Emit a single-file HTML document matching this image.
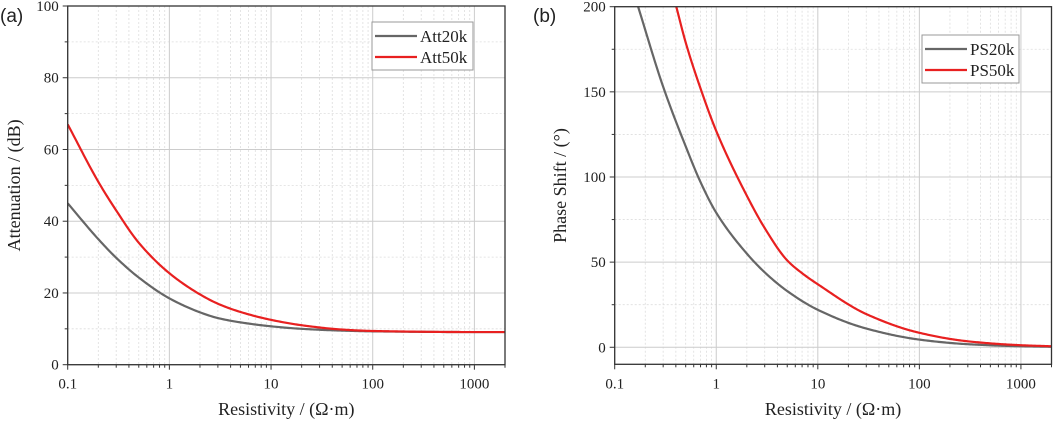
<!DOCTYPE html>
<html><head><meta charset="utf-8"><style>
body{margin:0;background:#fff}
svg text{font-family:"Liberation Serif",serif;fill:#222}
</style></head><body>
<svg id="c" width="1059" height="424" xmlns="http://www.w3.org/2000/svg"></svg>
<script>
const attX=[0.1,0.2,0.3,0.5,1,2,3,5,10,20,50,100,1000,2000];
const att20=[45,35,29.8,24.3,18.5,14.6,13,11.8,10.7,10,9.5,9.3,9.1,9.1];
const att50=[67,51,43,34,25.5,19.6,17,14.7,12.5,11,9.8,9.4,9.1,9.1];
const ps20X=[0.17,0.3,0.5,0.7,1,2,3,5,10,30,100,300,1000,2000];
const ps20=[200,153,118,97,79,55,44,33,22,11,4.5,1.8,0.6,0.3];
const ps50X=[0.4,0.5,0.7,1,2,3,5,7,10,30,100,300,1000,2000];
const ps50=[201,179,152,127,89,70,51,43.5,37,19.5,8.5,3.5,1.2,0.6];
const xTicks=[0.1,1,10,100,1000];
const xTickLabels=["0.1","1","10","100","1000"];
const attYTicks=[0,20,40,60,80,100];
const psYTicks=[0,50,100,150,200];

const NS="http://www.w3.org/2000/svg";
const svg=document.getElementById('c');
function mk(t,a,p){const e=document.createElementNS(NS,t);for(const k in a)e.setAttribute(k,a[k]);(p||svg).appendChild(e);return e;}

function monotone(xv,yv){
  const n=xv.length,u=xv.map(v=>Math.log10(v)),d=[],m=[];
  for(let i=0;i<n-1;i++)d.push((yv[i+1]-yv[i])/(u[i+1]-u[i]));
  m[0]=d[0];m[n-1]=d[n-2];
  for(let i=1;i<n-1;i++){if(d[i-1]*d[i]<=0)m[i]=0;else{const h0=u[i]-u[i-1],h1=u[i+1]-u[i];const w1=2*h1+h0,w2=h1+2*h0;m[i]=(w1+w2)/(w1/d[i-1]+w2/d[i]);}}
  return function(t){let i=0;while(i<n-2&&t>u[i+1])i++;const h=u[i+1]-u[i],s=(t-u[i])/h;
    const h00=2*s*s*s-3*s*s+1,h10=s*s*s-2*s*s+s,h01=-2*s*s*s+3*s*s,h11=s*s*s-s*s;
    return h00*yv[i]+h10*h*m[i]+h01*yv[i+1]+h11*h*m[i+1];};
}

function panel(o){
  const g=mk('g',{});
  
  
  const L=o.x0,R=o.x1,T=o.y0,B=o.y1;
  const xs=v=>L+(Math.log10(v)-Math.log10(0.1))/(Math.log10(2000)-Math.log10(0.1))*(R-L);
  const ys=v=>B-(v-o.ymin)/(o.ymax-o.ymin)*(B-T);
  for(let d=0.1;d<2000;d*=10){for(let m=2;m<10;m++){const v=d*m;if(v>2000)break;const x=xs(v);
    const l=mk('line',{x1:x,x2:x,y1:T,y2:B,stroke:'#ddd','stroke-width':0.8,'stroke-dasharray':'2,2'},g);
    
    const t=mk('line',{x1:x,x2:x,y1:B,y2:B+3,stroke:'#333','stroke-width':1},g);
    }}
  for(let i=0;i<o.yt.length-1;i++){const v=(o.yt[i]+o.yt[i+1])/2;const y=ys(v);
    const l=mk('line',{x1:L,x2:R,y1:y,y2:y,stroke:'#ddd','stroke-width':0.8,'stroke-dasharray':'2,2'},g);
    
    const t=mk('line',{x1:L-3,x2:L,y1:y,y2:y,stroke:'#333'},g);
    }
  xTicks.forEach((v,i)=>{const x=xs(v);
    const l=mk('line',{x1:x,x2:x,y1:T,y2:B,stroke:'#ccc','stroke-width':1},g);
    
    const t=mk('line',{x1:x,x2:x,y1:B,y2:B+5,stroke:'#333'},g);
    
    const tx=mk('text',{x:x,y:B+24,'text-anchor':'middle','font-size':15},g);tx.textContent=xTickLabels[i];
    });
  o.yt.forEach(v=>{const y=ys(v);
    const l=mk('line',{x1:L,x2:R,y1:y,y2:y,stroke:'#ccc','stroke-width':1},g);
    
    const t=mk('line',{x1:L-5,x2:L,y1:y,y2:y,stroke:'#333'},g);
    
    const tx=mk('text',{x:L-9,y:y+5,'text-anchor':'end','font-size':15},g);tx.textContent=v;
    });
  const cp=mk('clipPath',{id:o.name+'-clip'},g);mk('rect',{x:L,y:T,width:R-L,height:B-T},cp);
  o.series.forEach(s=>{
    const f=monotone(s.x,s.y);
    const u0=Math.log10(s.x[0]),u1=Math.log10(s.x[s.x.length-1]);
    let d='';
    for(let k=0;k<=300;k++){const u=u0+(u1-u0)*k/300;d+=(k?' L':'M')+xs(Math.pow(10,u)).toFixed(2)+','+ys(f(u)).toFixed(2);}
    const p=mk('path',{d:d,fill:'none',stroke:s.c,'stroke-width':2.2,'stroke-linejoin':'round','clip-path':'url(#'+o.name+'-clip)'},g);
    });
  const fr=mk('rect',{x:L,y:T,width:R-L,height:B-T,fill:'none',stroke:'#333','stroke-width':1.3},g);
  
  const xt=mk('text',{x:(L+R)/2,y:415,'text-anchor':'middle','font-size':18},g);xt.textContent='Resistivity / (Ω·m)';
  
  const yt=mk('text',{x:0,y:0,'text-anchor':'middle','font-size':18,transform:'translate('+o.ytx+','+((T+B)/2)+') rotate(-90)'},g);yt.textContent=o.ytitle;
  
  const pl=mk('text',{x:o.px,y:22,'font-size':19,style:'font-family:"Liberation Sans",sans-serif'},g);pl.textContent=o.plabel;
  
  const lg=mk('g',{},g);
  mk('rect',{x:o.lx,y:o.ly,width:o.lw,height:48,fill:'#fff',stroke:'#999'},lg);
  o.series.forEach((s,i)=>{const y=o.ly+14+i*21;
    const ln=mk('line',{x1:o.lx+3,x2:o.lx+45,y1:y,y2:y,stroke:s.c,'stroke-width':2.2},lg);
    
    const tx=mk('text',{x:o.lx+48,y:y+6,'font-size':17},lg);tx.textContent=s.n;
    });
}
panel({name:'attenuation-panel',x0:67.7,x1:505,y0:6,y1:364.7,ymin:0,ymax:100,yt:attYTicks,ytitle:'Attenuation / (dB)',ytx:20,plabel:'(a)',px:0,
  lx:372,ly:22,lw:101,series:[{n:'Att20k',x:attX,y:att20,c:'#666'},{n:'Att50k',x:attX,y:att50,c:'#e82020'}]});
panel({name:'phase-shift-panel',x0:614.7,x1:1051.5,y0:6.7,y1:364.3,ymin:-10,ymax:200,yt:psYTicks,ytitle:'Phase Shift / (°)',ytx:566,plabel:'(b)',px:533,
  lx:922,ly:35,lw:97,series:[{n:'PS20k',x:ps20X,y:ps20,c:'#666'},{n:'PS50k',x:ps50X,y:ps50,c:'#e82020'}]});
</script>
</body></html>
